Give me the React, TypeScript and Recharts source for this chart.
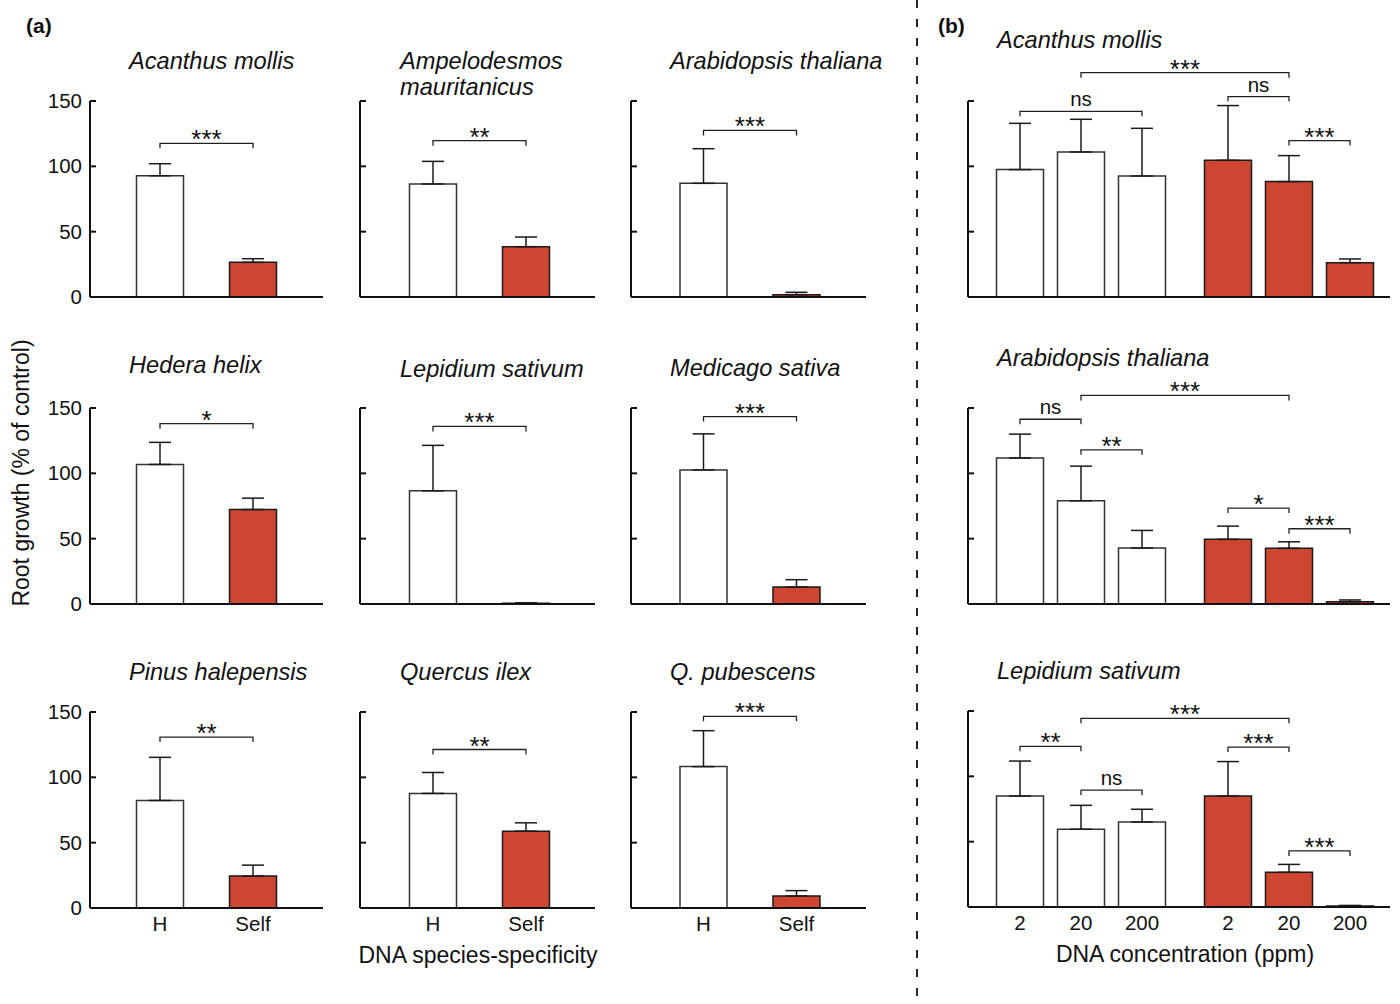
import React from 'react';
import { BarChart, Bar, XAxis, YAxis, ErrorBar, Cell, ReferenceLine } from 'recharts';

const RED = '#CE4631';
const INK = '#111';
const FONT = '"Liberation Sans", Arial, Helvetica, sans-serif';

// ---------- (a) DNA species-specificity ----------
const speciesA = [
  'Acanthus mollis', 'Ampelodesmos mauritanicus', 'Arabidopsis thaliana',
  'Hedera helix', 'Lepidium sativum', 'Medicago sativa',
  'Pinus halepensis', 'Quercus ilex', 'Q. pubescens',
];
const specificityLabels = ['H', 'Self'];
const heteroMeanA = [92.8, 86.5, 87.0, 106.8, 86.6, 102.6, 82.3, 87.7, 108.2];
const heteroSemA = [9.2, 17.3, 26.5, 16.9, 34.8, 27.6, 33.0, 16.0, 27.5];
const selfMeanA = [26.5, 38.5, 1.8, 72.3, 0.6, 13.0, 24.4, 58.8, 9.2];
const selfSemA = [2.8, 7.4, 1.8, 8.7, 0.3, 5.6, 8.4, 6.4, 4.1];
const sigA = ['***', '**', '***', '*', '***', '***', '**', '**', '***'];
const sigLevelA = [117.6, 119.6, 127.5, 138.0, 135.9, 143.4, 130.8, 121.3, 146.7];

// ---------- (b) DNA concentration ----------
const speciesB = ['Acanthus mollis', 'Arabidopsis thaliana', 'Lepidium sativum'];
const concLabels = ['2', '20', '200'];
const heteroMeanB = [[97.5, 111.0, 92.6], [111.8, 79.0, 42.8], [84.9, 59.5, 65.0]];
const heteroSemB = [[35.4, 25.0, 36.5], [18.2, 26.5, 13.5], [26.8, 18.3, 9.8]];
const selfMeanB = [[104.6, 88.3, 26.3], [49.5, 42.6, 1.8], [84.9, 26.5, 0.8]];
const selfSemB = [[41.9, 19.9, 2.8], [10.1, 5.0, 1.3], [26.4, 6.1, 0.4]];
// pairwise comparisons: [bar a, bar b, label, bracket level]; bars 0-2 heterologous, 3-5 self
const compsB: [number, number, string, number][][] = [
  [[0, 2, 'ns', 142.1], [1, 4, '***', 171.7], [3, 4, 'ns', 153.4], [4, 5, '***', 119.7]],
  [[0, 1, 'ns', 141.4], [1, 4, '***', 159.6], [1, 2, '**', 118.0], [3, 4, '*', 73.4], [4, 5, '***', 57.6]],
  [[0, 1, '**', 123.0], [1, 4, '***', 144.4], [1, 2, 'ns', 89.5], [3, 4, '***', 122.4], [4, 5, '***', 42.9]],
];

const yTicks = [0, 50, 100, 150];

// ---------- layout ----------
const PLOT_H = 196;
const Y_AXIS_W = 60;
const MARGIN_TOP = 70;
const MARGIN_RIGHT = 10;
const X_AXIS_H = 40;
const BAR_W = 47;
const GROUP_GAP = 25 / 61; // extra space between the heterologous and self groups in (b)

const colLeftA = [90, 359.5, 631];
const colLenA = [233, 235, 235];
const colFirstA = [70, 73, 72.5];
const rowTopA = [100.5, 408, 711.5];
const rowTopB = [100.5, 408, 711];

type Datum = { pos: number; value: number; err: [number, number]; self: boolean };
type Bracket = { from: number; to: number; label: string; level: number };

function YTick(props: any) {
  const { x, y, payload, showLabel } = props;
  return (
    <g>
      <line x1={x + 8} x2={x + 14} y1={y} y2={y} stroke={INK} strokeWidth={2} />
      {showLabel ? (
        <text x={x} y={y} dy={7} textAnchor="end" fontSize={20.5} fontFamily={FONT} fill={INK}>
          {payload.value}
        </text>
      ) : null}
    </g>
  );
}

function bracketShape(label: string) {
  return (p: any) => {
    const { x1, x2, y1 } = p;
    const stars = label.indexOf('*') >= 0;
    return (
      <g>
        <path d={`M${x1},${y1 + 5} V${y1} H${x2} V${y1 + 5}`} fill="none" stroke="#222" strokeWidth={1.3} />
        <text
          x={(x1 + x2) / 2}
          y={stars ? y1 + 5 : y1 - 5}
          textAnchor="middle"
          fontSize={stars ? 26 : 20.5}
          fontFamily={FONT}
          fill={INK}
        >
          {label}
        </text>
      </g>
    );
  };
}

type PanelProps = {
  left: number;
  top: number;
  length: number;
  firstCenter: number;
  unit: number;
  data: Datum[];
  ticks: number[];
  tickLabels: string[] | null;
  yLabels: boolean;
  brackets: Bracket[];
};

function Panel(p: PanelProps) {
  const width = Y_AXIS_W + p.length + MARGIN_RIGHT;
  const height = MARGIN_TOP + PLOT_H + X_AXIS_H;
  const domain: [number, number] = [-p.firstCenter / p.unit, (p.length - p.firstCenter) / p.unit];
  const labels = p.tickLabels;
  return (
    <div style={{ position: 'absolute', left: p.left - Y_AXIS_W, top: p.top - MARGIN_TOP }}>
      <BarChart
        width={width}
        height={height}
        data={p.data}
        margin={{ top: MARGIN_TOP, right: MARGIN_RIGHT, bottom: 0, left: 0 }}
      >
        <XAxis
          type="number"
          dataKey="pos"
          domain={domain}
          allowDataOverflow
          ticks={p.ticks}
          interval={0}
          height={X_AXIS_H}
          tickLine={false}
          tickSize={0}
          tickMargin={10}
          axisLine={{ stroke: INK, strokeWidth: 2 }}
          tick={
            labels
              ? (t: any) => (
                  <text x={t.x} y={t.y} dy={13} textAnchor="middle" fontSize={20.5} fontFamily={FONT} fill={INK}>
                    {labels[t.index]}
                  </text>
                )
              : false
          }
        />
        <YAxis
          type="number"
          domain={[0, 150]}
          ticks={yTicks}
          interval={0}
          width={Y_AXIS_W}
          tickLine={false}
          tickSize={0}
          tickMargin={8}
          axisLine={{ stroke: INK, strokeWidth: 2 }}
          tick={(t: any) => <YTick {...t} showLabel={p.yLabels} />}
        />
        <Bar dataKey="value" barSize={BAR_W} strokeWidth={1.5} isAnimationActive={false}>
          {p.data.map((d, i) => (
            <Cell key={i} fill={d.self ? RED : '#fff'} stroke={d.self ? '#1a1a1a' : '#333'} />
          ))}
          <ErrorBar dataKey="err" width={11} stroke="#1a1a1a" strokeWidth={1.5} direction="y" isAnimationActive={false} />
        </Bar>
        {p.brackets.map((b, i) => (
          <ReferenceLine
            key={i}
            segment={[{ x: b.from, y: b.level }, { x: b.to, y: b.level }]}
            ifOverflow="visible"
            shape={bracketShape(b.label)}
          />
        ))}
      </BarChart>
    </div>
  );
}

const posB = (i: number) => i + (i >= 3 ? GROUP_GAP : 0);

function PanelA({ k }: { k: number }) {
  const row = Math.floor(k / 3);
  const col = k % 3;
  const data: Datum[] = [
    { pos: 0, value: heteroMeanA[k], err: [0, heteroSemA[k]], self: false },
    { pos: 1, value: selfMeanA[k], err: [0, selfSemA[k]], self: true },
  ];
  return (
    <Panel
      left={colLeftA[col]}
      top={rowTopA[row]}
      length={colLenA[col]}
      firstCenter={colFirstA[col]}
      unit={93}
      data={data}
      ticks={[0, 1]}
      tickLabels={row === 2 ? specificityLabels : null}
      yLabels={col === 0}
      brackets={[{ from: 0, to: 1, label: sigA[k], level: sigLevelA[k] }]}
    />
  );
}

function PanelB({ r }: { r: number }) {
  const data: Datum[] = [];
  for (let i = 0; i < 3; i++) {
    data.push({ pos: posB(i), value: heteroMeanB[r][i], err: [0, heteroSemB[r][i]], self: false });
  }
  for (let i = 0; i < 3; i++) {
    data.push({ pos: posB(i + 3), value: selfMeanB[r][i], err: [0, selfSemB[r][i]], self: true });
  }
  const brackets = compsB[r].map(([a, b, label, level]) => ({ from: posB(a), to: posB(b), label, level }));
  return (
    <Panel
      left={968}
      top={rowTopB[r]}
      length={422}
      firstCenter={52}
      unit={61}
      data={data}
      ticks={[0, 1, 2, 3, 4, 5].map(posB)}
      tickLabels={r === 2 ? [...concLabels, ...concLabels] : null}
      yLabels={false}
      brackets={brackets}
    />
  );
}

const titleX = [129, 400, 670];
const titleBaseline = [[69, 69, 69], [373, 377, 376], [680, 680, 680]];
const titleBaselineB = [48, 366, 679];
const TITLE_SIZE = 23.6;

export default function App() {
  return (
    <div style={{ position: 'absolute', left: 0, top: 0, width: 1400, height: 1004, background: '#fff' }}>
      <svg width={1400} height={1004} style={{ position: 'absolute', left: 0, top: 0 }} fontFamily={FONT} fill={INK}>
        <line x1={917} y1={0} x2={917} y2={1004} stroke={INK} strokeWidth={1.8} strokeDasharray="8 11" />
        <text x={26} y={33} fontSize={21} fontWeight="bold">(a)</text>
        <text x={938} y={33} fontSize={21} fontWeight="bold">(b)</text>
        {speciesA.map((s, k) => {
          const row = Math.floor(k / 3);
          const col = k % 3;
          const x = titleX[col];
          const y = titleBaseline[row][col];
          if (s === 'Ampelodesmos mauritanicus') {
            return (
              <text key={s} x={x} y={y} fontSize={TITLE_SIZE} fontStyle="italic">
                <tspan x={x} y={y}>Ampelodesmos</tspan>
                <tspan x={x} y={y + 26}>mauritanicus</tspan>
              </text>
            );
          }
          return (
            <text key={s} x={x} y={y} fontSize={TITLE_SIZE} fontStyle="italic">{s}</text>
          );
        })}
        {speciesB.map((s, r) => (
          <text key={'b' + s} x={997} y={titleBaselineB[r]} fontSize={TITLE_SIZE} fontStyle="italic">{s}</text>
        ))}
        <text x={29} y={473} fontSize={23} textAnchor="middle" transform="rotate(-90 29 473)">
          Root growth (% of control)
        </text>
        <text x={478} y={963} fontSize={23} textAnchor="middle">DNA species-specificity</text>
        <text x={1185} y={962} fontSize={23} textAnchor="middle">DNA concentration (ppm)</text>
      </svg>
      {speciesA.map((s, k) => <PanelA key={s} k={k} />)}
      {speciesB.map((s, r) => <PanelB key={s} r={r} />)}
    </div>
  );
}
